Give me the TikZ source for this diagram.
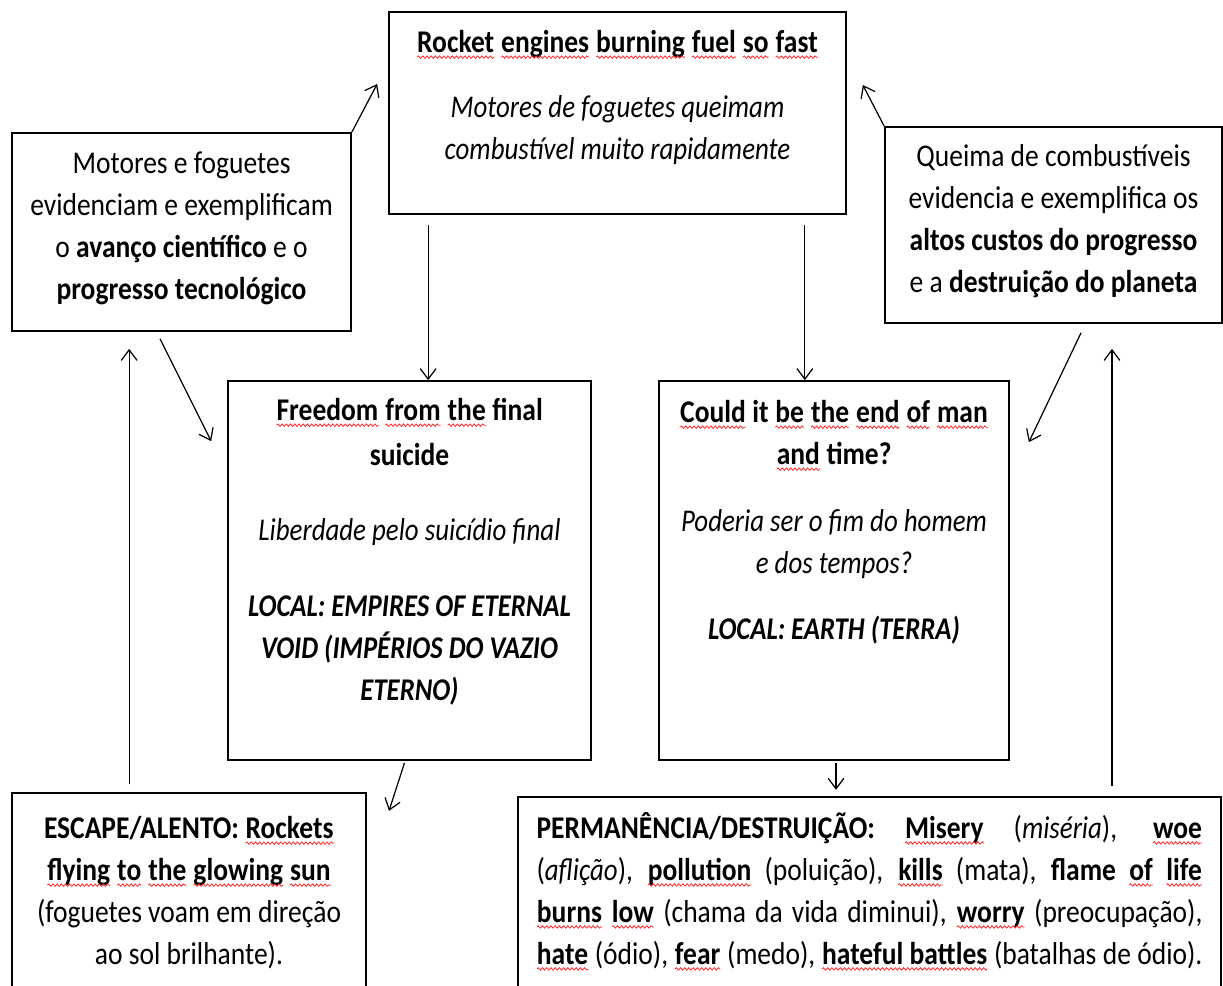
\documentclass[tikz,border=0pt]{standalone}
\usepackage{fontspec}
\setmainfont{Carlito}[UprightFeatures={FakeStretch=0.87}, BoldFeatures={FakeStretch=0.87},
    ItalicFeatures={FakeStretch=0.85}, BoldItalicFeatures={FakeStretch=0.845}]
\usepackage{xcolor}
\usepackage{tikz}
\usetikzlibrary{arrows.meta,calc,positioning,decorations.pathmorphing}

% red wavy spell-check line under a word
\newcommand\spellw[1]{\tikz[baseline=(wd.base)]{\node[draw=none, fill=none, inner sep=0pt, outer sep=0pt] (wd) {#1};
    \draw[red!85, line width=0.45pt, decorate, decoration={snake, amplitude=0.7pt, segment length=2.4pt}]
        ([yshift=-2.8pt]wd.base west) -- ([yshift=-2.8pt]wd.base east);}}

\begin{document}
\begin{tikzpicture}[x=0.02cm, y=0.02cm,
    box/.style={draw, line width=1pt, inner ysep=0pt, inner xsep=0.12cm},
    link/.style={-{Straight Barb[length=6pt,width=9pt]}, line width=0.7pt},
    font=\fontsize{18pt}{23.9pt}\selectfont]
    \path[fill=white, use as bounding box] (0,0) rectangle (1223,985);
    \clip (0,0) rectangle (1223,985);

    % top row
    \node[box] (rocket) at (617.5,872) {
        \begin{minipage}[c][4.04cm][t]{8.9cm}
            \centering
            \vspace*{0.36cm}
            \textbf{\spellw{Rocket} \spellw{engines} \spellw{burning} \spellw{fuel} \spellw{so} \spellw{fast}}\\[0.46cm]
            \textit{Motores de foguetes queimam\\ combustível muito rapidamente}
        \end{minipage}
    };
    \node[box] (progress) at (181.5,753) {
        \begin{minipage}[c][3.96cm][t]{6.54cm}
            \centering
            \vspace*{0.38cm}
            Motores e foguetes\\ evidenciam e exemplificam\\ o \textbf{avanço científico} e o\\ \textbf{progresso tecnológico}
        \end{minipage}
    };
    \node[box] (cost) at (1053.5,760) {
        \begin{minipage}[c][3.92cm][t]{6.5cm}
            \centering
            \vspace*{0.36cm}
            Queima de combustíveis\\ evidencia e exemplifica os\\ \textbf{altos custos do progresso}\\ e a \textbf{destruição do planeta}
        \end{minipage}
    };

    % middle row
    \node[box] (freedom) at (409.5,414.5) {
        \begin{minipage}[c][7.58cm][t]{7.02cm}
            \centering
            \vspace*{0.34cm}
            \textbf{\spellw{Freedom} \spellw{from} \spellw{the} final\\[0.06cm] suicide}\\[0.66cm]
            \textit{Liberdade pelo suicídio final}\\[0.68cm]
            \textbf{\textit{LOCAL: EMPIRES OF ETERNAL\\ VOID (IMPÉRIOS DO VAZIO\\ ETERNO)}}
        \end{minipage}
    };
    \node[box] (endman) at (834,414.5) {
        \begin{minipage}[c][7.58cm][t]{6.76cm}
            \centering
            \vspace*{0.38cm}
            \textbf{\spellw{Could} it \spellw{be} \spellw{the} \spellw{end} \spellw{of} \spellw{man}\\ \spellw{and} time?}\\[0.5cm]
            \textit{Poderia ser o fim do homem\\ e dos tempos?}\\[0.48cm]
            \textbf{\textit{LOCAL: EARTH (TERRA)}}
        \end{minipage}
    };

    % bottom row
    \node[box] (escape) at (189,88.5) {
        \begin{minipage}[c][4.14cm][t]{6.84cm}
            \centering
            \vspace*{0.46cm}
            \textbf{ESCAPE/ALENTO: \spellw{Rockets}\\ \spellw{flying} \spellw{to} \spellw{the} \spellw{glowing} \spellw{sun}}\\
            (foguetes voam em direção\\ ao sol brilhante).
        \end{minipage}
    };
    \node[box, inner xsep=0.37cm] (destroy) at (869.5,86.5) {
        \begin{minipage}[c][4.06cm][t]{13.32cm}
            \vspace*{0.30cm}
            \parfillskip=0pt
            \textbf{PERMANÊNCIA/DESTRUIÇÃO:} \textbf{\spellw{Misery}} (\textit{miséria}), \textbf{\spellw{woe}}\linebreak
            (\textit{aflição}), \textbf{\spellw{pollution}} (poluição), \textbf{\spellw{kills}} (mata), \textbf{flame \spellw{of} \spellw{life}}\linebreak
            \textbf{\spellw{burns} \spellw{low}} (chama da vida diminui), \textbf{\spellw{worry}} (preocupação),\linebreak
            \textbf{\spellw{hate}} (ódio), \textbf{\spellw{fear}} (medo), \textbf{\spellw{hateful battles}} (batalhas de ódio).
        \end{minipage}
    };

    % connectors
    \draw[link] (progress.north east) -- ($(rocket.west)+(-11,29)$);
    \draw[link] (cost.north west) -- ($(rocket.east)+(16,28)$);
    \draw[link] ($(rocket.south west)+(40,-10)$) coordinate (a) -- (a |- freedom.north);
    \draw[link] ($(rocket.south east)+(-42,-10)$) coordinate (b) -- (b |- endman.north);
    \draw[link] ($(progress.south)+(-21.5,-7)$) -- ($(freedom.north west)+(-16,-61)$);
    \draw[link] ($(cost.south)+(27.5,-9)$) -- ($(endman.north east)+(19,-62)$);
    \draw[link] ($(escape.north west)+(118,8)$) coordinate (c) -- ($(c |- progress.south)+(0,-17)$);
    \draw[link] ($(destroy.north)+(242.5,10)$) coordinate (d) -- ($(d |- cost.south)+(0,-25)$);
    \draw[link] ($(freedom.south)+(-5,-2)$) -- ($(freedom.south)+(-20.5,-50)$);
    \draw[link] ($(endman.south)+(2,-2)$) -- ($(endman.south)+(2,-29)$);
\end{tikzpicture}
\end{document}
